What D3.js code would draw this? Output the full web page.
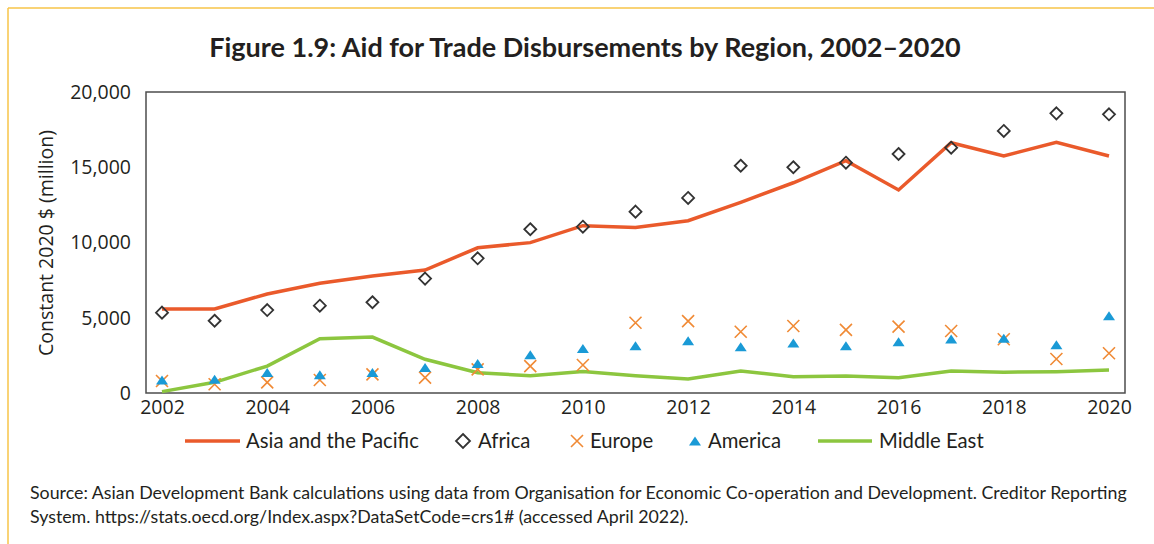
<!DOCTYPE html>
<html><head><meta charset="utf-8">
<script src="https://cdn.jsdelivr.net/npm/d3@7"></script>
<style>body{margin:0;background:#fff;} svg{display:block;}</style>
</head><body>
<svg id="chart" width="1154" height="544"></svg>
<script>
const years = [2002,2003,2004,2005,2006,2007,2008,2009,2010,2011,2012,2013,2014,2015,2016,2017,2018,2019,2020];
const asiaPacific = [5580,5580,6580,7290,7770,8170,9650,9990,11120,10990,11450,12670,13970,15440,13490,16630,15750,16660,15750];
const africa = [5340,4800,5510,5800,6030,7600,8950,10880,11050,12050,12960,15100,15000,15300,15880,16300,17410,18580,18520];
const europe = [800,580,710,860,1240,1020,1570,1790,1860,4670,4780,4070,4450,4190,4410,4120,3570,2260,2640];
const america = [800,860,1310,1150,1310,1640,1900,2480,2900,3080,3410,3010,3260,3080,3340,3520,3570,3140,5070];
const middleEast = [90,710,1790,3610,3720,2240,1350,1150,1420,1150,930,1460,1080,1130,1020,1460,1380,1420,1530];
const yTicks = [0,5000,10000,15000,20000];
const xTicks = [2002,2004,2006,2008,2010,2012,2014,2016,2018,2020];
const titleText = "Figure 1.9: Aid for Trade Disbursements by Region, 2002–2020";
const yLabel = "Constant 2020 $ (million)";
const sourceLines = ["Source: Asian Development Bank calculations using data from Organisation for Economic Co-operation and Development. Creditor Reporting",
"System. https://stats.oecd.org/Index.aspx?DataSetCode=crs1# (accessed April 2022)."];

const C = {asia:"#ea5a2b", africa:"#333333", europe:"#f08a35", america:"#1a9ad6", me:"#8cc63f", text:"#231f20"};
const font = "Lato, 'Open Sans', sans-serif";
const font2 = "'Open Sans', sans-serif";
const svg = d3.select("#chart");

// frame border
svg.append("line").attr("x1",8).attr("x2",1154).attr("y1",8).attr("y2",8).attr("stroke","#f7c548").attr("stroke-width",1.5);
svg.append("line").attr("x1",8).attr("x2",8).attr("y1",8).attr("y2",544).attr("stroke","#f7c548").attr("stroke-width",1.5);

svg.append("text").attr("x",585).attr("y",57).attr("text-anchor","middle")
  .attr("font-family",font).attr("font-weight","bold").attr("font-size",27).attr("fill",C.text).text(titleText);

const L=146, R=1125, T=92, B=393;
const x = d3.scaleLinear().domain([2002,2020]).range([162,1109]);
const y = d3.scaleLinear().domain([0,20000]).range([B,T]);

svg.append("rect").attr("x",L).attr("y",T).attr("width",R-L).attr("height",B-T)
  .attr("fill","none").attr("stroke","#4d4d4d").attr("stroke-width",1.5);

const yAxis = svg.append("g").attr("transform",`translate(${L},0)`)
  .call(d3.axisLeft(y).tickValues(yTicks).tickSize(0).tickPadding(15).tickFormat(d3.format(",")));
yAxis.select(".domain").remove();
yAxis.selectAll("text").attr("font-family",font2).attr("font-size",19.5).attr("fill",C.text);

const xAxis = svg.append("g").attr("transform",`translate(0,${B})`)
  .call(d3.axisBottom(x).tickValues(xTicks).tickSize(0).tickPadding(7).tickFormat(d3.format("d")));
xAxis.select(".domain").remove();
xAxis.selectAll("text").attr("font-family",font2).attr("font-size",19.5).attr("fill",C.text);

svg.append("text").attr("transform","translate(53,243) rotate(-90)").attr("text-anchor","middle")
  .attr("font-family",font2).attr("font-size",19.5).attr("fill",C.text).text(yLabel);

const line = d3.line().x((d,i)=>x(years[i])).y(d=>y(d));
svg.append("path").datum(middleEast).attr("d",line).attr("fill","none").attr("stroke",C.me).attr("stroke-width",3.5);
svg.append("path").datum(asiaPacific).attr("d",line).attr("fill","none").attr("stroke",C.asia).attr("stroke-width",3.5);

const diamond = s => `M0,${-s}L${s},0L0,${s}L${-s},0Z`;
svg.append("g").selectAll("path").data(africa).join("path")
  .attr("transform",(d,i)=>`translate(${x(years[i])},${y(d)})`).attr("d",diamond(6))
  .attr("fill","none").attr("stroke",C.africa).attr("stroke-width",1.8);

const cross = s => `M${-s},${-s}L${s},${s}M${-s},${s}L${s},${-s}`;
svg.append("g").selectAll("path").data(europe).join("path")
  .attr("transform",(d,i)=>`translate(${x(years[i])},${y(d)})`).attr("d",cross(6))
  .attr("fill","none").attr("stroke",C.europe).attr("stroke-width",1.6);

const tri = s => `M0,${-s*0.9}L${s},${s*0.6}L${-s},${s*0.6}Z`;
svg.append("g").selectAll("path").data(america).join("path")
  .attr("transform",(d,i)=>`translate(${x(years[i])},${y(d)})`).attr("d",tri(6))
  .attr("fill",C.america);

// legend
const ly = 441;
const lg = svg.append("g").attr("font-family",font).attr("font-size",20.3).attr("fill",C.text);
lg.append("line").attr("x1",185).attr("x2",240).attr("y1",ly).attr("y2",ly).attr("stroke",C.asia).attr("stroke-width",3.5);
lg.append("text").attr("x",246).attr("y",ly+7).text("Asia and the Pacific");
lg.append("path").attr("transform",`translate(463,${ly})`).attr("d",diamond(7)).attr("fill","none").attr("stroke",C.africa).attr("stroke-width",1.8);
lg.append("text").attr("x",478).attr("y",ly+7).text("Africa");
lg.append("path").attr("transform",`translate(577,${ly})`).attr("d",cross(6)).attr("fill","none").attr("stroke",C.europe).attr("stroke-width",1.6);
lg.append("text").attr("x",590).attr("y",ly+7).text("Europe");
lg.append("path").attr("transform",`translate(695,${ly+1})`).attr("d",tri(6)).attr("fill",C.america);
lg.append("text").attr("x",708).attr("y",ly+7).text("America");
lg.append("line").attr("x1",818).attr("x2",872).attr("y1",ly).attr("y2",ly).attr("stroke",C.me).attr("stroke-width",3.5);
lg.append("text").attr("x",879).attr("y",ly+7).text("Middle East");

svg.append("g").selectAll("text").data(sourceLines).join("text")
  .attr("x",30).attr("y",(d,i)=>499+i*24).attr("font-family",font).attr("font-size",17.8).attr("fill",C.text).text(d=>d);
</script>
</body></html>
